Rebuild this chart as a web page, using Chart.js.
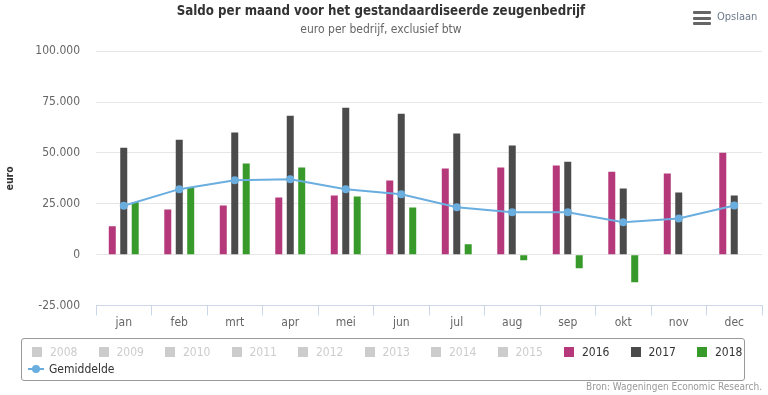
<!DOCTYPE html>
<html>
<head>
<meta charset="utf-8">
<script src="https://cdn.jsdelivr.net/npm/chart.js@4.4.0/dist/chart.umd.min.js"></script>
<style>
  body { margin: 0; background: #fff; font-family: "DejaVu Sans Condensed", "DejaVu Sans", sans-serif; }
  #wrap { position: relative; width: 768px; height: 395px; overflow: hidden; }
  #chart { position: absolute; left: 0; top: 0; }
  .menu { position: absolute; left: 693px; top: 11px; width: 18px; }
  .menu i { display: block; height: 3px; background: #666; border-radius: 1px; margin-bottom: 2.5px; }
  .opslaan { position: absolute; left: 717px; top: 10px; font-size: 11px; color: #6d7a8c; }
  .legend { position: absolute; left: 21px; top: 338px; width: 722px; height: 41px; border: 1px solid #999; border-radius: 3px; }
  .item { position: absolute; font-size: 12px; line-height: 14px; white-space: nowrap; }
  .item .sq { position: absolute; left: 0; top: 2px; width: 10px; height: 10px; }
  .item span { position: absolute; left: 18px; top: 0; }
  .source { position: absolute; right: 6px; top: 381px; font-size: 10px; color: #999; }
</style>
</head>
<body>
<div id="wrap">
  <canvas id="chart" width="768" height="395"></canvas>
  <div class="menu"><i></i><i></i><i></i></div>
  <div class="opslaan">Opslaan</div>
  <div class="legend" id="legend"></div>
  <div class="source">Bron: Wageningen Economic Research.</div>
</div>
<script>
// ---- data (euro per bedrijf) ----
const months = ['jan','feb','mrt','apr','mei','jun','jul','aug','sep','okt','nov','dec'];
const saldo2016 = [14000, 22200, 24200, 28100, 29100, 36400, 42300, 42800, 43800, 40800, 39900, 50100];
const saldo2017 = [52600, 56500, 60000, 68300, 72200, 69300, 59500, 53600, 45700, 32500, 30600, 29100];
const saldo2018 = [25800, 33300, 44800, 42800, 28600, 23200, 5100, -2800, -6700, -13600, null, null];
const gemiddelde = [24000, 32200, 36600, 37100, 32200, 29700, 23300, 20800, 20800, 15900, 17800, 24200];
const inactiveYears = ['2008','2009','2010','2011','2012','2013','2014','2015'];
const yTicks = [-25000, 0, 25000, 50000, 75000, 100000];

const colors = { '2016': '#b5397a', '2017': '#4b4b4b', '2018': '#379a2b', avg: '#6aaee0' };
const FONT = '"DejaVu Sans Condensed", sans-serif';

const fmt = v => {
  const s = Math.abs(v).toString().replace(/\B(?=(\d{3})+(?!\d))/g, '.');
  return (v < 0 ? '-' : '') + s;
};

const barDs = (label, data) => ({
  type: 'bar', label, data, backgroundColor: colors[label], order: 1,
  categoryPercentage: 0.62, barPercentage: 0.61
});

new Chart(document.getElementById('chart'), {
  data: {
    labels: months,
    datasets: [
      barDs('2016', saldo2016),
      barDs('2017', saldo2017),
      barDs('2018', saldo2018),
      {
        type: 'line', label: 'Gemiddelde', data: gemiddelde, order: 0,
        borderColor: colors.avg, backgroundColor: colors.avg, borderWidth: 2,
        pointRadius: 4, pointBackgroundColor: colors.avg, pointBorderWidth: 0,
        tension: 0
      }
    ]
  },
  options: {
    responsive: false,
    devicePixelRatio: 1,
    animation: false,
    layout: { padding: { left: 0, right: 6, top: 0, bottom: 0 } },
    plugins: {
      legend: { display: false },
      tooltip: { enabled: false },
      title: {
        display: true, text: 'Saldo per maand voor het gestandaardiseerde zeugenbedrijf',
        color: '#333', font: { family: FONT, size: 13.2, weight: 'bold' },
        padding: { top: 4, bottom: 2 }
      },
      subtitle: {
        display: true, text: 'euro per bedrijf, exclusief btw',
        color: '#666', font: { family: FONT, size: 12 },
        padding: { top: 1, bottom: 14 }
      }
    },
    scales: {
      x: {
        offset: true,
        grid: { offset: true, drawOnChartArea: false, drawTicks: true, tickLength: 10, color: '#ccd6eb' },
        border: { color: '#ccd6eb' },
        ticks: { color: '#666', padding: 0, font: { family: FONT, size: 12 } },
        afterFit: s => { s.height = 89.5; }
      },
      y: {
        min: -25000, max: 100000,
        afterBuildTicks: s => { s.ticks = yTicks.map(v => ({ value: v })); },
        grid: { color: '#e6e6e6', drawTicks: false },
        border: { display: false },
        ticks: { color: '#666', padding: 16, callback: v => fmt(v), font: { family: FONT, size: 12 } },
        title: { display: true, text: 'euro', color: '#333', padding: { top: 4, bottom: 0 },
                 font: { family: FONT, size: 10.5, weight: 'bold' } },
        afterFit: s => { s.width = 96; }
      }
    }
  }
});

// ---- legend ----
const legend = document.getElementById('legend');
const addItem = (i, label, color, textColor) => {
  const el = document.createElement('div');
  el.className = 'item';
  el.style.left = (10 + i * 66.5) + 'px';
  el.style.top = '6px';
  el.innerHTML = `<div class="sq" style="background:${color}"></div><span style="color:${textColor}">${label}</span>`;
  legend.appendChild(el);
};
inactiveYears.forEach((y, i) => addItem(i, y, '#ccc', '#ccc'));
['2016', '2017', '2018'].forEach((y, i) => addItem(inactiveYears.length + i, y, colors[y], '#333'));
const avg = document.createElement('div');
avg.className = 'item';
avg.style.left = '6px';
avg.style.top = '23px';
avg.innerHTML = `<svg width="16" height="14" style="position:absolute;left:0;top:0">
  <line x1="0" y1="7" x2="16" y2="7" stroke="${colors.avg}" stroke-width="2"/>
  <circle cx="8" cy="7" r="4" fill="${colors.avg}"/></svg><span style="left:21px;color:#333">Gemiddelde</span>`;
legend.appendChild(avg);
</script>
</body>
</html>
